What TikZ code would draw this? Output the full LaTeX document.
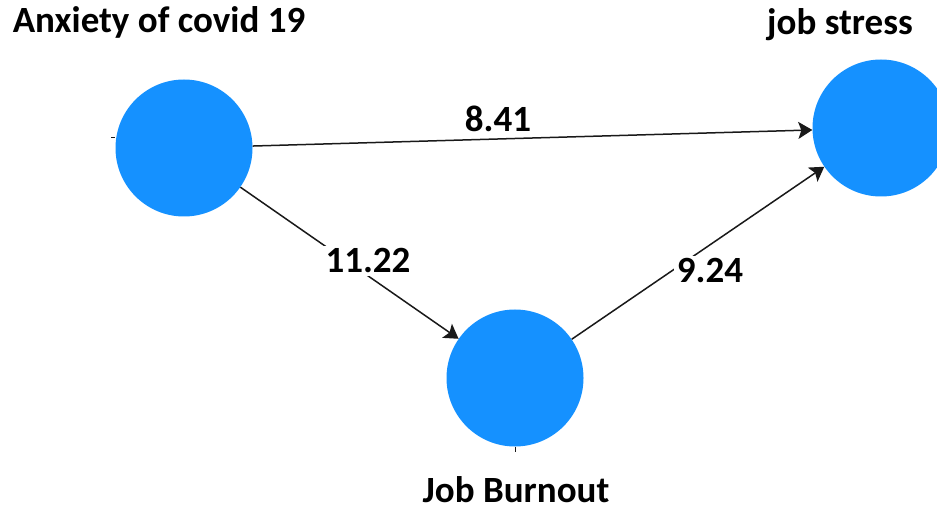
\documentclass[tikz,border=0pt]{standalone}
\usepackage{fontspec}
\setmainfont{Carlito}
\usepackage{tikz}
\usetikzlibrary{arrows.meta}
\definecolor{circblue}{RGB}{21,145,255}
\definecolor{edgegray}{RGB}{25,25,25}

\begin{document}
\begin{tikzpicture}[x=1pt, y=-1pt,
  var/.style={circle, fill=circblue, minimum size=137pt, inner sep=0pt},
  arrowline/.style={draw=edgegray, line width=1.5pt, -{Stealth[length=14pt, width=17pt, inset=3pt]}},
  title/.style={anchor=base, font=\fontsize{37}{40}\selectfont\bfseries},
  coef/.style={anchor=base, fill=white, inner sep=3pt, font=\fontsize{37}{40}\selectfont\bfseries}]
\clip (0,0) rectangle (937,510);
\useasboundingbox (0,0) rectangle (937,510);
\node[var] (anx) at (184,148) {};
\node[var] (burn) at (515,378) {};
\node[var] (stress) at (881,128) {};
\node[title] at (159,33) {Anxiety of covid 19};
\node[title] at (840,35) {job stress};
\node[title] at (516,502) {Job Burnout};
\draw[arrowline] (anx) -- (stress);
\draw[arrowline] (anx) -- (burn);
\draw[arrowline] (burn) -- (stress);
\node[coef] (c1) at (498,132) {8.41};
\node[coef] (c2) at (368,273) {11.22};
\node[coef] (c3) at (710,283) {9.24};
% little stubs
\draw[edgegray, line width=1pt] (111,138) -- (anx.west |- 0,138);
\draw[edgegray, line width=1pt] (burn.south) -- ++(0,5);
\end{tikzpicture}
\end{document}
